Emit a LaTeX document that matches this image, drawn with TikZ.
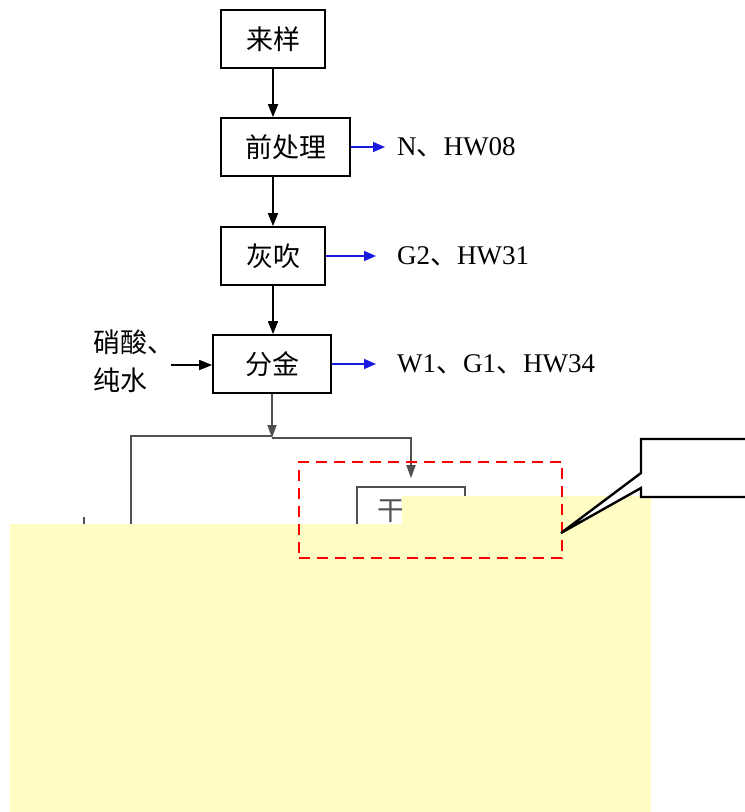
\documentclass[tikz,border=0pt]{standalone}
\usepackage{fontspec}
\setmainfont{Liberation Serif}
\newfontfamily\cjk{Noto Sans CJK SC}
\usetikzlibrary{arrows.meta,positioning}
\definecolor{pasteyellow}{RGB}{255,253,196}
\definecolor{linegray}{RGB}{80,80,80}
\definecolor{outblue}{RGB}{25,25,225}

\begin{document}
\begin{tikzpicture}[
    x=1pt, y=-1pt,
    box/.style={rectangle, draw, line width=1.7pt, minimum height=58pt, inner sep=0pt, font=\cjk\fontsize{27}{30}\selectfont},
    arrow/.style={-{Triangle[length=13pt,width=10pt]}, line width=1.7pt},
    outarrow/.style={-{Triangle[length=12pt,width=10pt]}, line width=1.6pt, outblue},
    graylink/.style={linegray, line width=1.8pt},
    lbl/.style={anchor=west, inner sep=0pt, font=\fontsize{27}{30}\selectfont}
]
\useasboundingbox (0,0) rectangle (745,812);
\clip (0,0) rectangle (745,812);

% main chain
\node[box, minimum width=104pt] (laiyang) at (273,39) {来样};
\node[box, minimum width=129pt] (qianchuli) at (285.5,147) {前处理};
\node[box, minimum width=104pt] (huichui) at (273,256) {灰吹};
\node[box, minimum width=118pt] (fenjin) at (272,364) {分金};

\node[lbl] (out1) at (397,147) {N{\cjk 、}HW08};
\node[lbl] (out2) at (397,256) {G2{\cjk 、}HW31};
\node[lbl] (out3) at (397,364) {W1{\cjk 、}G1{\cjk 、}HW34};
\node[lbl, align=left, font=\cjk\fontsize{27}{38}\selectfont] (acid) at (93,361) {硝酸、\\纯水};
\coordinate (acidin) at (171,365);

\draw[arrow] (laiyang) -- (laiyang.south |- qianchuli.north);
\draw[arrow] (laiyang.south |- qianchuli.south) -- (huichui);
\draw[arrow] (huichui) -- (huichui.south |- fenjin.north);
\draw[arrow] (acidin) -- (fenjin.west |- acidin);
\draw[outarrow] (qianchuli.east) -- ([xshift=-12pt]out1.west);
\draw[outarrow] (huichui.east) -- ([xshift=-21pt]out2.west);
\draw[outarrow] (fenjin.east) -- ([xshift=-21pt]out3.west);

% branch below
\node[rectangle, draw=linegray, line width=1.7pt, minimum width=108pt, minimum height=58pt, inner sep=0pt] (gan) at (411,516) {};
\node[inner sep=0pt, text=linegray, font=\cjk\fontsize{27}{30}\selectfont] (gantext) at (391,511) {干};
\coordinate (split) at (272,438);
\coordinate (leftend) at (131,530);
\coordinate (stub) at (84,517);

\draw[graylink, -{Triangle[length=13pt,width=9pt]}] (fenjin.south) -- (split);
\draw[graylink] (leftend) |- ([yshift=2pt]split);
\draw[graylink, -{Triangle[length=13pt,width=9pt]}, shorten >=8pt] (split) -| (gan.north);
\draw[graylink] (stub) -- ++(0,10);

% covered area
\fill[pasteyellow] (10,524) rectangle (651,812);
\fill[pasteyellow] (402,496) rectangle (651,524);

% marked region and note
\node[draw=red, line width=2.8pt, dash pattern=on 11pt off 7pt, minimum width=263pt, minimum height=96pt, inner sep=0pt] (focus) at (430.5,510) {};
\coordinate (tip) at (561,533);
\draw[line width=2.4pt, fill=white, line join=miter] (760,439) -| (641,473) -- (tip) -- (641,488) |- (760,497);
\end{tikzpicture}
\end{document}
